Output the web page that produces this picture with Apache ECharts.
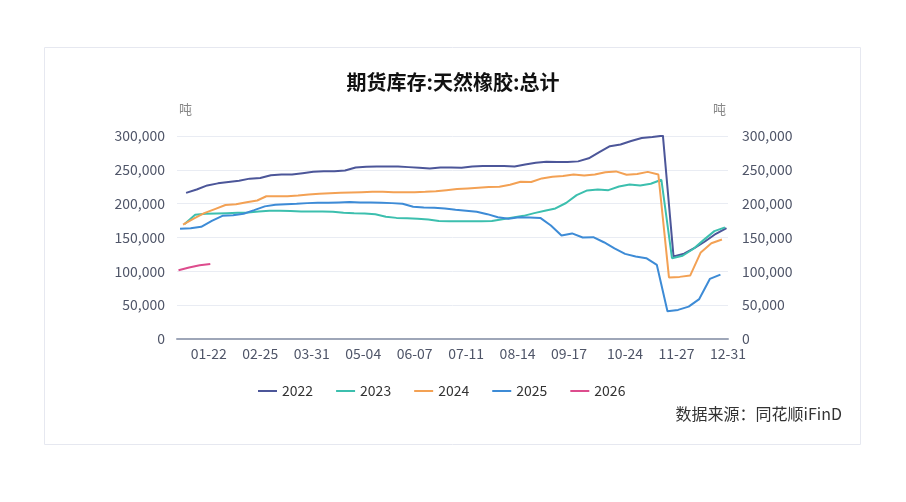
<!DOCTYPE html>
<html>
<head>
<meta charset="utf-8">
<script src="https://cdn.jsdelivr.net/npm/echarts@6/dist/echarts.min.js"></script>
<style>
  html, body { margin: 0; padding: 0; background: #fff; }
  #chart { width: 906px; height: 502px; }
</style>
</head>
<body>
<div id="chart"></div>
<script>
// ---- data ----
const title = '期货库存:天然橡胶:总计';
const unit = '吨';
const source = '数据来源：同花顺iFinD';
const seriesNames = ['2022', '2023', '2024', '2025', '2026'];
const tickLabels = ['01-22', '02-25', '03-31', '05-04', '06-07', '07-11', '08-14', '09-17', '10-24', '11-27', '12-31'];
// first weekly report date (Friday) of each year
const firstDates = { '2022': '2022-01-07', '2023': '2023-01-06', '2024': '2024-01-05', '2025': '2025-01-03', '2026': '2026-01-02' };
const v2022 = [216000, 221000, 227000, 230000, 232000, 234000, 237000, 238000, 242000, 243000, 243000, 245000, 247000,
  248000, 248000, 249000, 253500, 254500, 255000, 255000, 255000, 254000, 253000, 252000, 253500, 253500,
  253000, 255000, 255500, 255500, 255500, 255000, 258000, 260500, 262000, 261500, 261500, 262500, 267000,
  276000, 285000, 287500, 292500, 297000, 298500, 300500, 122000, 126000, 134500, 144500, 155500, 164000];
const v2023 = [170000, 183500, 185000, 185500, 186000, 186500, 187000, 188500, 189500, 189500, 189000, 188500, 188500,
  188500, 188000, 186500, 185700, 185500, 184500, 180600, 179000, 178300, 177600, 176600, 174400, 174000,
  174000, 174000, 174000, 174500, 177000, 179500, 182000, 186000, 189500, 193000, 201000, 212600, 219600,
  221000, 220000, 225400, 228400, 227000, 229400, 235300, 119400, 123000, 133000, 146500, 159400, 165000];
const v2024 = [169000, 178000, 186000, 192000, 198000, 199000, 202000, 204700, 211000, 211000, 211000, 212000, 213600,
  214600, 215500, 216000, 216500, 217000, 217500, 217500, 217000, 217000, 217000, 217500, 218500, 220000,
  221500, 222500, 223500, 224500, 225000, 228000, 232400, 232000, 237300, 239800, 240800, 243000, 241700,
  243000, 246500, 247700, 242700, 244000, 247000, 243000, 91000, 91800, 93700, 128000, 141600, 147000];
const v2025 = [162800, 163800, 165800, 174600, 182000, 183000, 185000, 190400, 196000, 198300, 199300, 199800, 200800,
  201300, 201300, 201800, 202300, 201800, 201800, 201300, 200800, 199800, 195400, 194400, 193900, 193000,
  191000, 189500, 188000, 184500, 180000, 177600, 180000, 179600, 179000, 167700, 153000, 156000, 150000,
  150500, 143000, 134000, 125800, 121900, 119400, 109500, 41000, 43000, 47900, 59000, 88800, 95200];
const v2026 = [101600, 105600, 109000, 111000];
const colors = ['#4c5699', '#3cbfae', '#f3a154', '#3d8bd6', '#dd4c8d'];

// ---- category axis: every calendar day MM-DD ----
const monthDays = [31, 28, 31, 30, 31, 30, 31, 31, 30, 31, 30, 31];
const categories = [];
monthDays.forEach((n, m) => {
  for (let d = 1; d <= n; d++) categories.push(String(m + 1).padStart(2, '0') + '-' + String(d).padStart(2, '0'));
});

function weeklyDates(start, count) {
  const out = [];
  const t = new Date(start + 'T00:00:00Z');
  for (let i = 0; i < count; i++) {
    const d = new Date(t.getTime() + i * 7 * 86400000);
    out.push(String(d.getUTCMonth() + 1).padStart(2, '0') + '-' + String(d.getUTCDate()).padStart(2, '0'));
  }
  return out;
}
const valuesByYear = { '2022': v2022, '2023': v2023, '2024': v2024, '2025': v2025, '2026': v2026 };

const series = seriesNames.map((name, i) => {
  const vals = valuesByYear[name];
  const dates = weeklyDates(firstDates[name], vals.length);
  return {
    name: name,
    type: 'line',
    yAxisIndex: 0,
    symbol: 'none',
    smooth: false,
    lineStyle: { width: 2, color: colors[i] },
    itemStyle: { color: colors[i] },
    data: vals.map((v, k) => [dates[k], v])
  };
});

const labelColor = '#4f5568';
const fontFamily = '"Noto Sans CJK SC", "Noto Sans", sans-serif';
const fmt = v => v.toLocaleString('en-US');

const chart = echarts.init(document.getElementById('chart'), null, { renderer: 'canvas' });
chart.setOption({
  animation: false,
  color: colors,
  textStyle: { fontFamily: fontFamily },
  title: {
    text: title,
    left: 'center',
    top: 67,
    textStyle: { fontSize: 20, fontWeight: 'bold', color: '#111', fontFamily: fontFamily }
  },
  graphic: [
    { type: 'rect', shape: { x: 44.5, y: 47.5, width: 816, height: 397 }, style: { fill: 'none', stroke: '#e6e8f0', lineWidth: 1 }, silent: true, z: -10 },
    { type: 'text', right: 64, top: 406, style: { text: source, fill: '#333', font: '16px ' + fontFamily, textAlign: 'right' } }
  ],
  legend: {
    data: seriesNames,
    top: 379,
    left: 253,
    icon: 'rect',
    itemWidth: 19,
    itemHeight: 2,
    itemGap: 23,
    textStyle: { fontSize: 14, color: '#333' }
  },
  grid: { left: 177, right: 178, top: 136, bottom: 163, containLabel: false },
  xAxis: {
    type: 'category',
    data: categories,
    boundaryGap: false,
    axisLine: { lineStyle: { color: '#9ea6b8', width: 2 } },
    axisTick: { show: false },
    axisLabel: {
      interval: (idx, val) => tickLabels.indexOf(val) >= 0,
      color: labelColor,
      fontSize: 14,
      margin: 8
    },
    splitLine: { show: false }
  },
  yAxis: [
    {
      type: 'value', min: 0, max: 300000, interval: 50000,
      name: unit, nameLocation: 'end', nameGap: 20,
      nameTextStyle: { color: '#888', fontSize: 13, align: 'left', padding: [0, 0, 0, 2] },
      axisLine: { show: false }, axisTick: { show: false },
      axisLabel: { color: labelColor, fontSize: 14, formatter: fmt, margin: 12 },
      splitLine: { lineStyle: { color: '#e9ecf3', width: 1 } }
    },
    {
      type: 'value', min: 0, max: 300000, interval: 50000, position: 'right',
      name: unit, nameLocation: 'end', nameGap: 20,
      nameTextStyle: { color: '#888', fontSize: 13, align: 'right', padding: [0, 2, 0, 0] },
      axisLine: { show: false }, axisTick: { show: false },
      axisLabel: { color: labelColor, fontSize: 14, formatter: fmt, margin: 14 },
      splitLine: { show: false }
    }
  ],
  series: series
});
</script>
</body>
</html>
